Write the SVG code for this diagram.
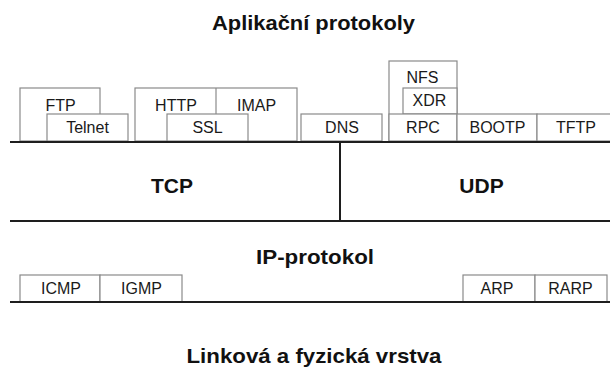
<svg xmlns="http://www.w3.org/2000/svg" width="610" height="376" viewBox="0 0 610 376">
  <style>
    .box { fill: #ffffff; stroke: #8a8a8a; stroke-width: 1.2; }
    .sep { stroke: #8a8a8a; stroke-width: 1.2; }
    .bus { stroke: #1e1e1e; stroke-width: 2; fill: none; }
    .lbl { font-family: "Liberation Sans", Arial, sans-serif; font-size: 16px; fill: #1a1a1a; text-anchor: middle; }
    .ttl { font-family: "Liberation Sans", Arial, sans-serif; font-size: 21px; font-weight: bold; fill: #111111; text-anchor: middle; }
  </style>
  <rect x="0" y="0" width="610" height="376" fill="#ffffff"/>

  <!-- layer titles -->
  <g id="title-app"><text class="ttl" x="313.5" y="30" textLength="203" lengthAdjust="spacingAndGlyphs">Aplikační protokoly</text></g>
  <g id="tcp"><text class="ttl" x="172" y="193">TCP</text></g>
  <g id="udp"><text class="ttl" x="481.5" y="193">UDP</text></g>
  <g id="ip"><text class="ttl" x="315" y="264" textLength="118" lengthAdjust="spacingAndGlyphs">IP-protokol</text></g>
  <g id="link"><text class="ttl" x="314" y="363" textLength="255" lengthAdjust="spacingAndGlyphs">Linková a fyzická vrstva</text></g>

  <!-- application protocols -->
  <g id="ftp"><rect class="box" x="20" y="88" width="80" height="53"/><text class="lbl" x="60.5" y="111">FTP</text></g>
  <g id="telnet"><rect class="box" x="47" y="114" width="81" height="27"/><text class="lbl" x="87.5" y="133">Telnet</text></g>
  <g id="http-imap">
    <rect class="box" x="135" y="88" width="162" height="53"/>
    <line class="sep" x1="216" y1="88" x2="216" y2="114"/>
    <text class="lbl" x="176" y="111">HTTP</text>
    <text class="lbl" x="256.5" y="111">IMAP</text>
  </g>
  <g id="ssl"><rect class="box" x="167" y="114" width="81" height="27"/><text class="lbl" x="207.5" y="133">SSL</text></g>
  <g id="dns"><rect class="box" x="301" y="114" width="81" height="27"/><text class="lbl" x="342" y="133">DNS</text></g>
  <g id="nfs"><rect class="box" x="389" y="61" width="68" height="80"/><text class="lbl" x="422.5" y="83">NFS</text></g>
  <g id="xdr"><rect class="box" x="403" y="88" width="54" height="26"/><text class="lbl" x="429.5" y="106">XDR</text></g>
  <g id="rpc"><rect class="box" x="389" y="114" width="68" height="27"/><text class="lbl" x="423" y="133">RPC</text></g>
  <g id="bootp"><rect class="box" x="457" y="114" width="80" height="27"/><text class="lbl" x="497.5" y="133">BOOTP</text></g>
  <g id="tftp"><rect class="box" x="537" y="114" width="76" height="27"/><text class="lbl" x="576" y="133">TFTP</text></g>

  <!-- network layer helpers -->
  <g id="icmp"><rect class="box" x="20" y="275" width="80" height="27"/><text class="lbl" x="61" y="294">ICMP</text></g>
  <g id="igmp"><rect class="box" x="100" y="275" width="82" height="27"/><text class="lbl" x="141.5" y="294">IGMP</text></g>
  <g id="arp"><rect class="box" x="463" y="275" width="72" height="27"/><text class="lbl" x="497" y="294">ARP</text></g>
  <g id="rarp"><rect class="box" x="535" y="275" width="72" height="27"/><text class="lbl" x="570.5" y="294">RARP</text></g>

  <!-- layer boundaries -->
  <g id="connectors">
    <line class="bus" x1="10" y1="142" x2="610" y2="142"/>
    <line class="bus" x1="340" y1="142" x2="340" y2="221"/>
    <line class="bus" x1="10" y1="221" x2="610" y2="221"/>
    <line class="bus" x1="10" y1="302" x2="610" y2="302"/>
  </g>
</svg>
